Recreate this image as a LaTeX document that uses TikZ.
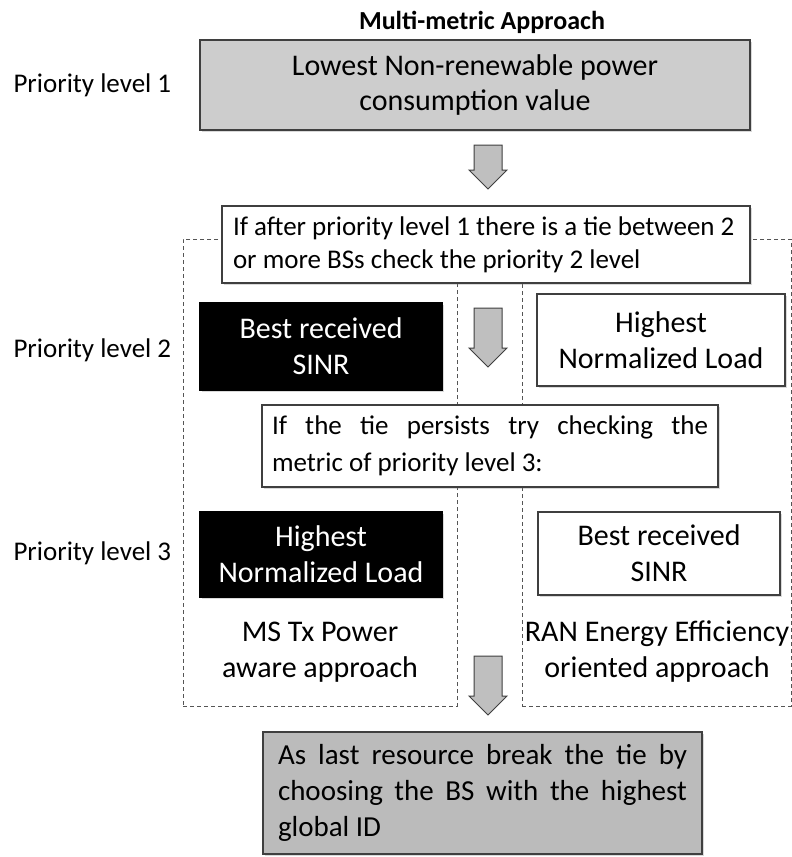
\documentclass[tikz,border=0pt]{standalone}
\usepackage{fontspec}
\setmainfont{Carlito}
\usetikzlibrary{positioning, shadows}
\definecolor{BoxLine}{HTML}{3F3F3F}
\definecolor{LevelOne}{HTML}{CDCDCD}
\definecolor{LastGrey}{HTML}{BBBBBB}
\definecolor{ArrowFill}{HTML}{BFBFBF}
\definecolor{DashLine}{HTML}{555555}
\tikzset{
  plainspace/.style={execute at begin node=\setlength{\spaceskip}{0pt}\setlength{\xspaceskip}{0pt}},
  mbox/.style={draw=BoxLine, line width=1.2pt, align=center, inner sep=0pt, plainspace,
    font=\fontsize{30}{36}\selectfont, fill=white,
    drop shadow={opacity=0.3, shadow xshift=1.5pt, shadow yshift=-1.5pt}},
  darkbox/.style={mbox, fill=black, text=white, draw=black},
  greybox/.style={mbox, fill=LevelOne},
  notebox/.style={mbox, align=left, font=\fontsize{27}{33}\selectfont},
  dashbox/.style={draw=DashLine, dash pattern=on 4pt off 3pt, line width=1pt, inner sep=0pt},
  blockarrow/.style={draw=BoxLine, fill=ArrowFill, line width=1pt, line join=miter},
  pics/downarrow/.style={code={
    \draw[blockarrow] (-14,0) -- (14,0) -- (14,#1-19) -- (19,#1-19) -- (0,#1)
      -- (-19,#1-19) -- (-14,#1-19) -- cycle;
  }},
  level/.style={anchor=west, plainspace, font=\fontsize{27}{32}\selectfont},
  lanetext/.style={align=center, plainspace, font=\fontsize{30}{36}\selectfont},
}
\begin{document}
\begin{tikzpicture}[x=1pt, y=-1pt]
  \useasboundingbox (0,0) rectangle (792,857);
  % lanes
  \node[dashbox, minimum width=274pt, minimum height=467pt] (mslane) at (320,472.5) {};
  \node[dashbox, minimum width=269pt, minimum height=467pt] (ranlane) at (656.5,472.5) {};
  % title and levels
  \node[plainspace, font=\bfseries\fontsize{26}{30}\selectfont] (title) at (482,22) {Multi-metric Approach};
  \node[level] (lvlone) at (10,85) {Priority level 1};
  \node[level] (lvltwo) at (10,350) {Priority level 2};
  \node[level] (lvlthree) at (10,553) {Priority level 3};
  % priority 1
  \node[greybox, minimum width=550pt, minimum height=90pt, font=\fontsize{30}{35}\selectfont] (power) at (475,85)
    {Lowest Non-renewable power\\consumption value};
  \pic (arrone) at (488,145) {downarrow=44};
  \node[notebox, minimum width=528pt, minimum height=77pt, text width=506pt] (tieone) at (486,244.5)
    {\mbox{If after priority level 1 there is a tie between 2}\\\mbox{or more BSs check the priority 2 level}};
  % priority 2
  \node[darkbox, minimum width=242pt, minimum height=87pt] (sinrtwo) at (321,346.5) {Best received\\SINR};
  \pic (arrtwo) at (488,308) {downarrow=59};
  \node[mbox, minimum width=248pt, minimum height=92pt] (loadtwo) at (661,340) {Highest\\Normalized Load};
  \node[notebox, minimum width=456pt, minimum height=82pt, text width=436pt,
    font=\fontsize{27}{37}\selectfont] (tietwo) at (490,446)
    {\makebox[436pt][s]{If the tie persists try checking the}\\metric of priority level 3:};
  % priority 3
  \node[darkbox, minimum width=242pt, minimum height=85pt] (loadthree) at (321,554.5) {Highest\\Normalized Load};
  \node[mbox, minimum width=242pt, minimum height=83pt] (sinrthree) at (659,553.5) {Best received\\SINR};
  \node[lanetext] (mstext) at (320,652) {MS Tx Power\\aware approach};
  \node[lanetext] (rantext) at (657,652) {RAN Energy Efficiency\\oriented approach};
  \pic (arrthree) at (488,656) {downarrow=59};
  % last resort
  \node[notebox, fill=LastGrey, minimum width=439pt, minimum height=122pt, text width=409pt,
    font=\fontsize{29}{36}\selectfont] (lastbox) at (482.5,793)
    {\makebox[409pt][s]{As last resource break the tie by}\\
     \makebox[409pt][s]{choosing the BS with the highest}\\global ID};
\end{tikzpicture}
\end{document}
